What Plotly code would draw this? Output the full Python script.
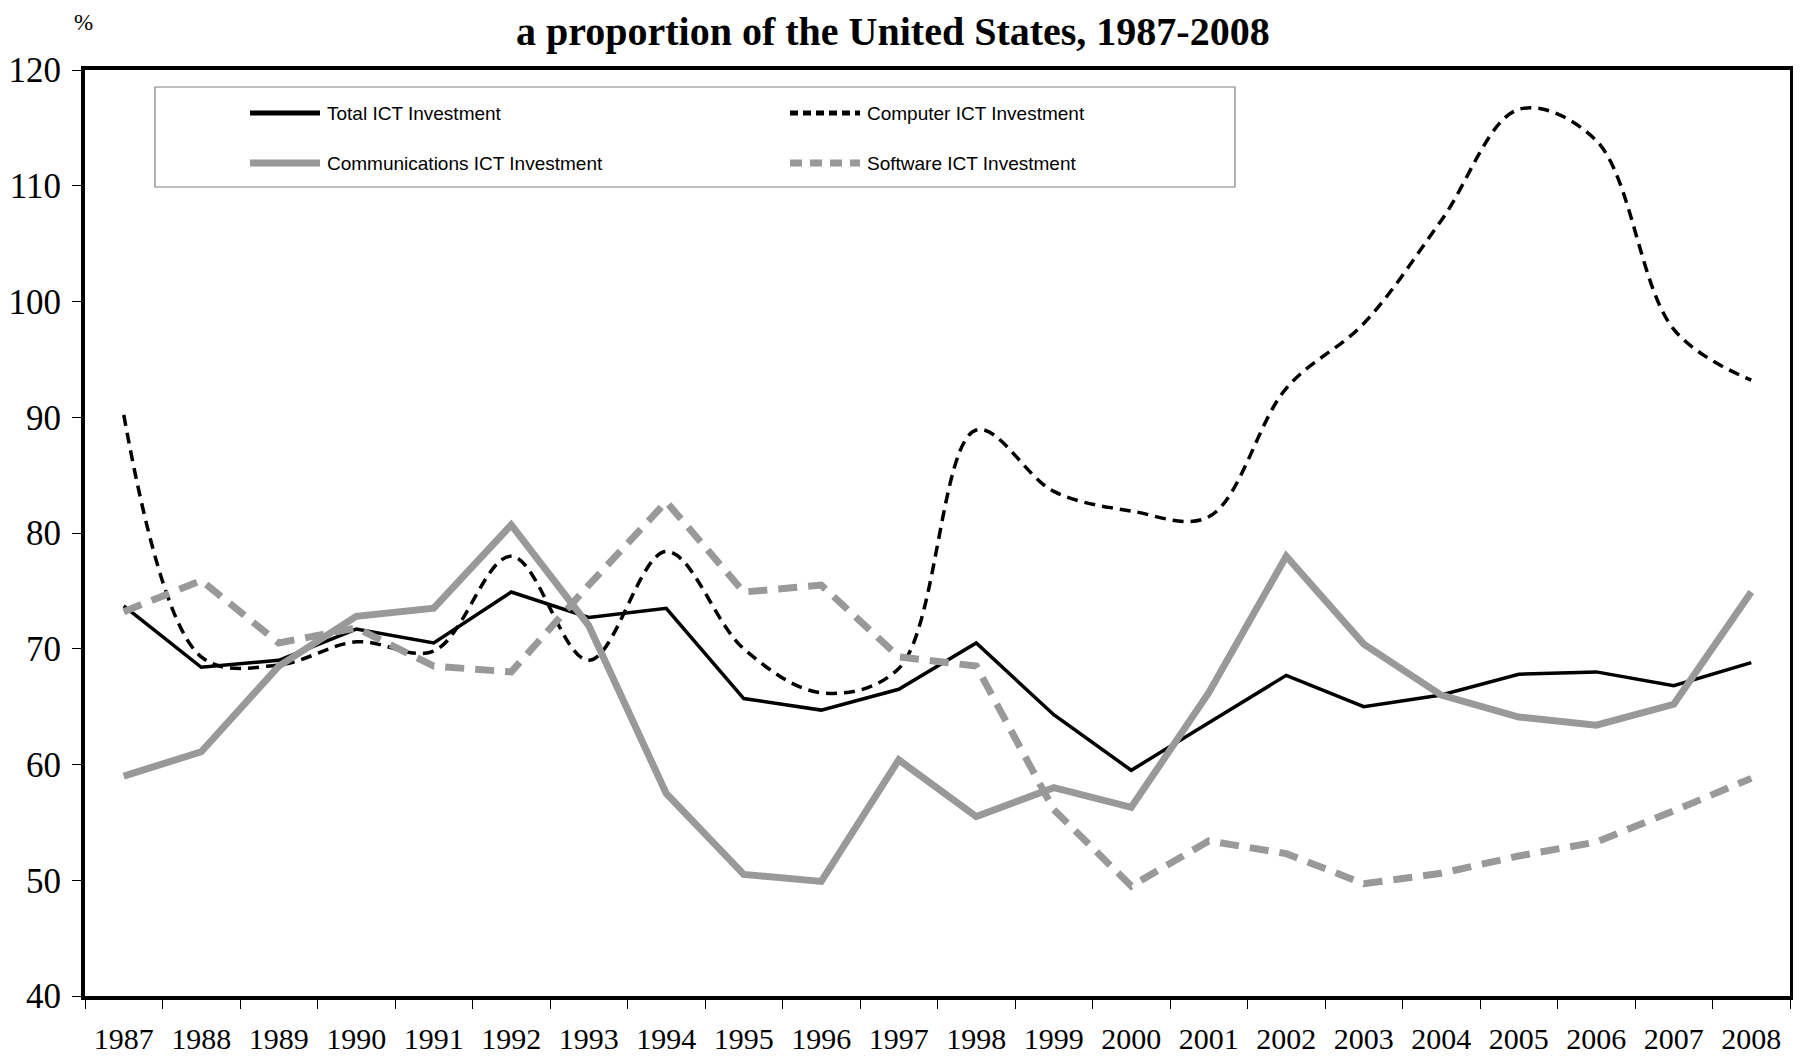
import plotly.graph_objects as go

years = [str(y) for y in range(1987, 2009)]
total_ict = [73.7, 68.4, 69.0, 71.7, 70.5, 74.9, 72.7, 73.5, 65.7, 64.7, 66.5, 70.5,
             64.3, 59.5, 63.6, 67.7, 65.0, 66.0, 67.8, 68.0, 66.8, 68.8]
computer_ict = [90.2, 69.3, 68.6, 70.6, 69.8, 78.0, 69.0, 78.4, 70.0, 66.2, 68.3, 88.9,
                83.6, 81.9, 81.4, 92.5, 98.1, 107.0, 116.6, 113.9, 97.6, 93.2]
comms_ict = [59.0, 61.1, 68.5, 72.8, 73.5, 80.7, 72.0, 57.5, 50.5, 49.9, 60.4, 55.5,
             58.0, 56.3, 66.2, 78.0, 70.4, 66.0, 64.1, 63.4, 65.2, 74.9]
software_ict = [73.2, 75.9, 70.5, 71.8, 68.5, 68.0, 75.5, 82.7, 74.9, 75.5, 69.3, 68.5,
                56.1, 49.5, 53.4, 52.3, 49.7, 50.6, 52.1, 53.3, 56.0, 58.8]

series_names = ["Total ICT Investment", "Computer ICT Investment",
                "Communications ICT Investment", "Software ICT Investment"]

GRAY = "#999999"
OFF = 8  # default page body margin
W, H = 1793, 1051
L, R, T, B = 77, 11, 62, 63
PW, PH = W - L - R, H - T - B


def px(x):
    return (x - OFF - L) / PW


def py(y):
    return (H - B - (y - OFF)) / PH


styles = [
    dict(color="black", width=3.5, dash="solid"),
    dict(color="black", width=3.5, dash="11px,7px"),
    dict(color=GRAY, width=7, dash="solid"),
    dict(color=GRAY, width=7, dash="19px,11px"),
]
shapes_line = ["linear", "spline", "linear", "linear"]

fig = go.Figure()
for name, vals, st, sh in zip(series_names, [total_ict, computer_ict, comms_ict, software_ict], styles, shapes_line):
    fig.add_trace(go.Scatter(
        x=years, y=vals, name=name, mode="lines",
        line=dict(color=st["color"], width=st["width"], dash=st["dash"], shape=sh,
                  smoothing=1.0 if sh == "spline" else None),
        showlegend=False,
    ))

shapes = []
annotations = []
# legend box
shapes.append(dict(type="rect", xref="paper", yref="paper",
                   x0=px(155), x1=px(1235), y0=py(187), y1=py(87),
                   line=dict(color="#808080", width=1.2), fillcolor="white", layer="above"))
leg_pos = [(250, 113), (790, 113), (250, 163), (790, 163)]
for (lx, ly), name, st in zip(leg_pos, series_names, styles):
    shapes.append(dict(type="line", xref="paper", yref="paper",
                       x0=px(lx), x1=px(lx + 70), y0=py(ly), y1=py(ly),
                       line=dict(color=st["color"], width=5 if st["color"] == "black" else 7,
                                 dash=st["dash"] if st["dash"] == "solid" else ("8px,5px" if st["color"] == "black" else "12px,8px")),
                       layer="above"))
    annotations.append(dict(xref="paper", yref="paper", x=px(lx + 75), y=py(ly),
                            text=name, showarrow=False, xanchor="left", yanchor="middle",
                            font=dict(family="Liberation Sans, Arial", size=19, color="black")))

annotations.append(dict(xref="paper", yref="paper", x=px(893), y=py(31),
                        text="<b>a proportion of the United States, 1987-2008</b>", showarrow=False,
                        xanchor="center", yanchor="middle",
                        font=dict(family="Liberation Serif, Times New Roman", size=40, color="black")))
annotations.append(dict(xref="paper", yref="paper", x=px(83), y=py(23),
                        text="%", showarrow=False, xanchor="center", yanchor="middle",
                        font=dict(family="Liberation Serif, Times New Roman", size=23, color="black")))

fig.update_layout(
    width=W, height=H,
    margin=dict(l=L, r=R, t=T, b=B),
    paper_bgcolor="white", plot_bgcolor="white",
    shapes=shapes, annotations=annotations,
    showlegend=False,
    font=dict(family="Liberation Serif, Times New Roman", color="black"),
)
fig.update_xaxes(
    type="category", categoryorder="array", categoryarray=years,
    range=[-0.5, len(years) - 0.5], automargin=False,
    showline=True, linewidth=4, linecolor="black", mirror=True,
    ticks="outside", tickson="boundaries", ticklen=9, tickwidth=1, tickcolor="black",
    showgrid=False, zeroline=False,
    tickfont=dict(family="Liberation Serif, Times New Roman", size=30, color="black"),
    ticklabelstandoff=13,
)
fig.update_yaxes(
    range=[40, 120], dtick=10, tick0=40, automargin=False,
    showline=True, linewidth=4, linecolor="black", mirror=True,
    ticks="outside", ticklen=9, tickwidth=1, tickcolor="black",
    showgrid=False, zeroline=False,
    tickfont=dict(family="Liberation Serif, Times New Roman", size=35, color="black"),
    ticklabelstandoff=4,
)

fig.write_html("out.html")
